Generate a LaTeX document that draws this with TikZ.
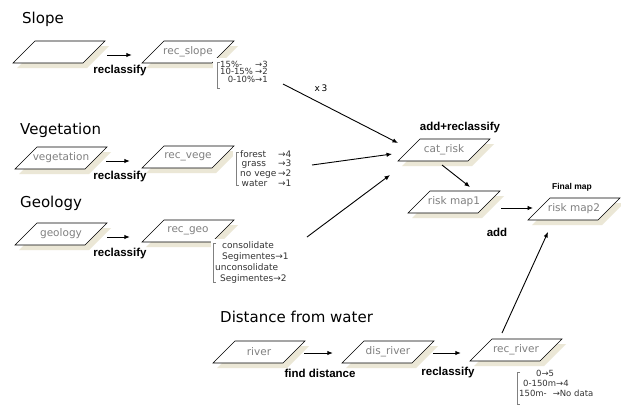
\documentclass[tikz,border=0pt]{standalone}
\usepackage{fontspec}
\setmainfont{DejaVu Sans}
\newfontfamily\opfont{Liberation Sans}
\usetikzlibrary{arrows.meta}
\definecolor{shad}{HTML}{EBE7D6}
\definecolor{lbl}{HTML}{808080}
\definecolor{ntxt}{HTML}{333333}
\tikzset{
  pgbox/.style={minimum width=92pt, minimum height=22pt, inner sep=0pt, text=lbl, font=\fontsize{10.5}{12}\selectfont},
  pgedge/.style={draw=black, line width=0.6pt, fill=white},
  pgshadow/.style={fill=shad},
  titletext/.style={anchor=base west, inner sep=0pt, font=\fontsize{15}{18}\selectfont},
  optext/.style={inner sep=0pt, font=\opfont\bfseries\fontsize{11.5}{13}\selectfont},
  flow/.style={-{Latex[length=5.5pt,width=4.5pt]}, line width=0.9pt},
  notetext/.style={anchor=north west, inner sep=0pt, align=left, text=ntxt},
  brk/.style={draw=gray, line width=0.5pt},
}
\newcommand\pgm[4]{%
  \fill[pgshadow] (#2-42,#3+16) -- (#2+28,#3+16) -- (#2+50,#3-6) -- (#2-20,#3-6) -- cycle;
  \draw[pgedge] (#2-46,#3+11) -- (#2+24,#3+11) -- (#2+46,#3-11) -- (#2-24,#3-11) -- cycle;
  \node[pgbox] (#1) at (#2,#3) {#4};
}
\begin{document}
\begin{tikzpicture}[x=1pt,y=-1pt]
\useasboundingbox[fill=white] (0,0) rectangle (621,405);
% titles
\node[titletext] (tslope) at (22,23) {Slope};
\node[titletext] (tveg) at (20,134) {Vegetation};
\node[titletext] (tgeo) at (20,207) {Geology};
\node[titletext] (tdist) at (220,322) {Distance from water};
% boxes
\pgm{slope}{59}{52}{}
\pgm{recslope}{188}{52}{rec\_slope}
\pgm{veg}{61}{158}{vegetation}
\pgm{recveg}{188}{157}{rec\_vege}
\pgm{geo}{61}{234}{geology}
\pgm{recgeo}{188}{231}{rec\_geo}
\pgm{cat}{444}{150}{cat\_risk}
\pgm{riskone}{454}{202}{risk map1}
\pgm{risktwo}{574}{209}{risk map2}
\pgm{river}{259}{352}{river}
\pgm{disriver}{388}{352}{dis\_river}
\pgm{recriver}{516}{350}{rec\_river}
% notes
\fill[white] (213,58) rectangle (282,91);
\draw[brk] (220,62) -- (217,62) -- (217,88) -- (220,88);
\node[notetext, font=\fontsize{8.5}{7.3}\selectfont] (nslope) at (220,61)
  {\makebox[35pt][l]{15\%-}→3\\\makebox[35pt][l]{10-15\%}→2\\\makebox[35pt][r]{0-10\%}→1};
\fill[white] (233,147) rectangle (295,189);
\draw[brk] (239,152) -- (236,152) -- (236,185) -- (239,185);
\node[notetext, font=\fontsize{9}{9.7}\selectfont] (nveg) at (240,150)
  {\makebox[38pt][l]{forest}→4\\\makebox[38pt][l]{\,grass}→3\\\makebox[38pt][l]{no vege}→2\\\makebox[38pt][l]{\,water}→1};
\fill[white] (211,239) rectangle (292,288);
\draw[brk] (216,243) -- (213,243) -- (213,282) -- (216,282);
\node[notetext, font=\fontsize{9}{11}\selectfont] (ngeo) at (215,241)
  {\hspace{7pt}consolidate\\\hspace{7pt}Segimentes→1\\unconsolidate\\\hspace{5pt}Segimentes→2};
\fill[white] (514,368) rectangle (600,405);
\draw[brk] (520,372) -- (517,372) -- (517,404) -- (520,404);
\node[notetext, font=\fontsize{8.5}{10}\selectfont] (nriver) at (519,370)
  {\hspace{17pt}0→5\\\hspace{4pt}0-150m→4\\150m-\hspace{6pt}→No data};
% operation labels
\node[optext] (lslope) at (120,71) {reclassify};
\node[optext] (lveg) at (120,177) {reclassify};
\node[optext] (lgeo) at (120,254) {reclassify};
\node[optext] (lfind) at (320,373) {find distance};
\node[optext] (lrecr) at (448,373) {reclassify};
\node[optext] (laddrec) at (460,128) {add+reclassify};
\node[optext] (ladd) at (497,232) {add};
\node[optext, font=\opfont\bfseries\fontsize{8.5}{10}\selectfont] (lfinal) at (572,187) {Final map};
\node[inner sep=0pt, font=\fontsize{9}{10}\selectfont] (lx) at (321,88) {x\,3};
% connectors
\draw[flow] ([shift={(2,3)}]slope.east) -- ([shift={(-10,3)}]recslope.west);
\draw[flow] ([shift={(-1,3)}]veg.east) -- ([shift={(-12,4)}]recveg.west);
\draw[flow] ([shift={(0,3)}]geo.east) -- ([shift={(-12,6)}]recgeo.west);
\draw[flow] ([shift={(-1,1)}]river.east) -- ([shift={(-9,1)}]disriver.west);
\draw[flow] ([shift={(-1,1)}]disriver.east) -- ([shift={(-9,3)}]recriver.west);
\coordinate (sfrom) at (283,84);
\coordinate (vfrom) at (312,165);
\coordinate (gfrom) at (307,237);
\draw[flow] (sfrom) -- ([shift={(-46,-7)}]cat.center);
\draw[flow] (vfrom) -- ([shift={(-52,4)}]cat.center);
\draw[flow] (gfrom) -- ([shift={(-54,25)}]cat.center);
\draw[flow] ([shift={(-2,15)}]cat.center) -- ([shift={(16,-15)}]riskone.center);
\draw[flow] ([shift={(47,6)}]riskone.center) -- ([shift={(-41,-1)}]risktwo.center);
\draw[flow] ([shift={(-14,-17)}]recriver.center) -- ([shift={(-26,23)}]risktwo.center);
\end{tikzpicture}
\end{document}
